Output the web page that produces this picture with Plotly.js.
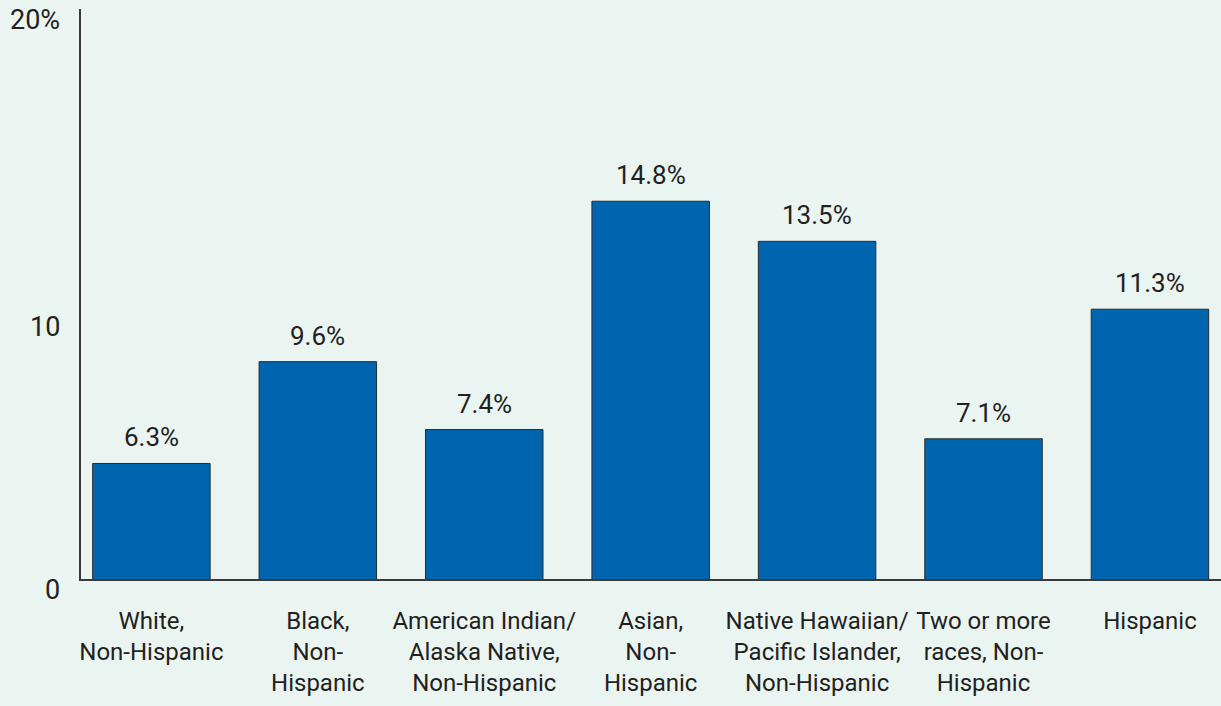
<!DOCTYPE html>
<html>
<head>
<meta charset="utf-8">
<script src="https://cdn.plot.ly/plotly-3.0.1.min.js"></script>
<style>
  html, body { margin: 0; padding: 0; background: #EAF4F1; }
  #chart { width: 1221px; height: 706px; }
</style>
</head>
<body>
<div id="chart"></div>
<script>
const categories = [
  "White,<br>Non-Hispanic",
  "Black,<br>Non-<br>Hispanic",
  "American Indian/<br>Alaska Native,<br>Non-Hispanic",
  "Asian,<br>Non-<br>Hispanic",
  "Native Hawaiian/<br>Pacific Islander,<br>Non-Hispanic",
  "Two or more<br>races, Non-<br>Hispanic",
  "Hispanic"
];
const values = [6.3, 9.6, 7.4, 14.8, 13.5, 7.1, 11.3];
const valueLabels = ["6.3%", "9.6%", "7.4%", "14.8%", "13.5%", "7.1%", "11.3%"];
const yTickLabels = ["0", "10", "20%"];

const FONT = "Roboto, 'Liberation Sans', Arial, sans-serif";
const TEXT = "#231F20";

const trace = {
  type: "bar",
  x: categories,
  y: values,
  marker: { color: "#0065AF", line: { color: "#2b2b2b", width: 1 } },
  hoverinfo: "skip"
};

const annotations = values.map((v, i) => ({
  x: categories[i], y: v, xref: "x", yref: "y",
  text: valueLabels[i], showarrow: false,
  yanchor: "bottom", yshift: 9,
  font: { family: FONT, size: 26, color: TEXT }
}));

const plotH = 706 - 9 - 127;
const yLabelPixels = [590, 327, 20];
yTickLabels.forEach((t, i) => {
  annotations.push({
    x: (62 - 81) / 1140, xref: "paper", xanchor: "right",
    y: (579 - yLabelPixels[i]) / plotH, yref: "paper", yanchor: "middle",
    text: t, showarrow: false,
    font: { family: FONT, size: 27, color: TEXT }
  });
});

const layout = {
  width: 1221, height: 706,
  margin: { l: 81, r: 0, t: 9, b: 127, pad: 0 },
  paper_bgcolor: "#EAF4F1",
  plot_bgcolor: "#EAF4F1",
  showlegend: false,
  bargap: 0.294,
  font: { family: FONT, color: TEXT },
  xaxis: {
    type: "category",
    range: [-0.423, 6.427],
    showline: true, linecolor: "#3a3a3a", linewidth: 2,
    ticks: "", showgrid: false, zeroline: false,
    tickangle: 0,
    tickfont: { family: FONT, size: 24, color: TEXT },
    ticklabelstandoff: 19
  },
  yaxis: {
    range: [2.556, 21.03],
    showline: true, linecolor: "#3a3a3a", linewidth: 2,
    showticklabels: false, ticks: "", showgrid: false, zeroline: false
  },
  annotations: annotations
};

Plotly.newPlot("chart", [trace], layout, { staticPlot: true, displayModeBar: false });
</script>
</body>
</html>
